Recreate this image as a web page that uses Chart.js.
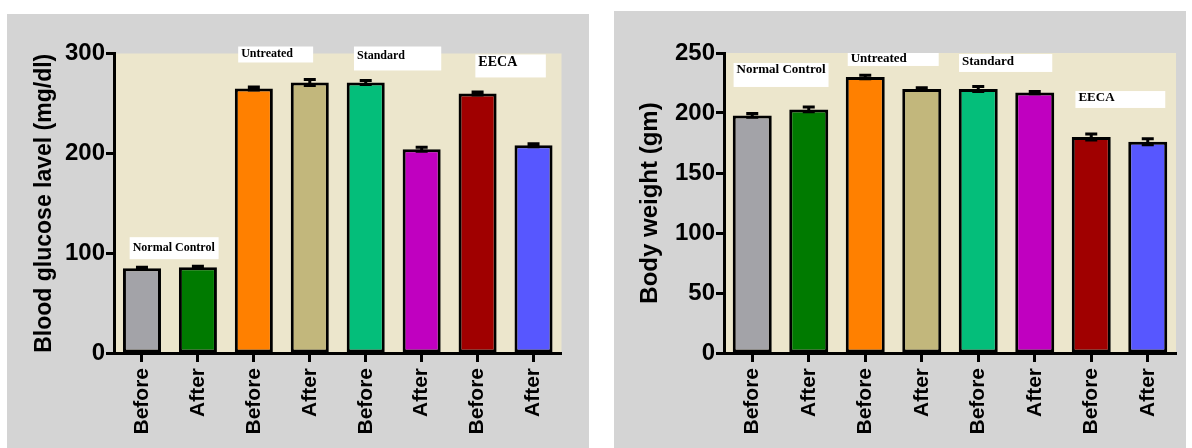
<!DOCTYPE html>
<html>
<head>
<meta charset="utf-8">
<script src="https://cdn.jsdelivr.net/npm/chart.js@4/dist/chart.umd.min.js"></script>
<style>
    html, body { margin: 0; padding: 0; background: #ffffff; }
    body { width: 1192px; height: 448px; position: relative; overflow: hidden; }
    .panel { position: absolute; background: #d4d4d4; }
    #leftPanel { left: 7px; top: 14px; width: 582px; height: 434px; }
    #rightPanel { left: 614px; top: 11px; width: 572px; height: 437px; }
    canvas { display: block; }
</style>
</head>
<body>
<div class="panel" id="leftPanel"><canvas id="glucoseChart" width="582" height="434"></canvas></div>
<div class="panel" id="rightPanel"><canvas id="weightChart" width="572" height="437"></canvas></div>

<script>
// Data
const categories = ['Before', 'After', 'Before', 'After', 'Before', 'After', 'Before', 'After'];
const barColors = ['#a3a3a8', '#007a00', '#ff8000', '#c2b77c', '#04be7a', '#c000c0', '#a00000', '#5757ff'];

const glucoseValues = [85, 86, 265, 271, 271, 204, 260, 208];
const glucoseErrors = [1, 1, 1.5, 3, 2, 2, 1.5, 1.5];
const glucoseTicks = [0, 100, 200, 300];

const weightValues = [198, 203, 230, 220, 220, 217, 180, 176];
const weightErrors = [1.5, 2, 1.5, 1, 2, 1, 2.5, 2.5];
const weightTicks = [0, 50, 100, 150, 200, 250];

const groupNames = ['Normal Control', 'Untreated', 'Standard', 'EECA'];

// label box layout (category index units on x, value units on y)
const glucoseNoteLayout = [
    { x0: -0.22, x1: 1.37, y0: 116, y1: 94, ty: 105, size: 12 },
    { x0: 1.72, x1: 3.06, y0: 307, y1: 291, ty: 299.5, size: 12 },
    { x0: 3.79, x1: 5.35, y0: 307, y1: 283, ty: 297.5, size: 12 },
    { x0: 5.96, x1: 7.22, y0: 299, y1: 276, ty: 291.5, size: 14 }
];
const weightNoteLayout = [
    { x0: -0.33, x1: 1.35, y0: 241.7, y1: 221.7, ty: 235.8, size: 13 },
    { x0: 1.69, x1: 3.3, y0: 250, y1: 239.2, ty: 245, size: 13 },
    { x0: 3.66, x1: 5.31, y0: 249.2, y1: 234.2, ty: 242.5, size: 13 },
    { x0: 5.72, x1: 7.31, y0: 218.3, y1: 204.2, ty: 212.5, size: 13 }
];

// Plot background
const plotBackground = {
    id: 'plotBackground',
    beforeDraw(chart) {
        const { ctx, chartArea } = chart;
        ctx.save();
        ctx.fillStyle = '#ece6cc';
        ctx.fillRect(chartArea.left, chartArea.top, chartArea.right - chartArea.left, chartArea.bottom - chartArea.top);
        ctx.restore();
    }
};

// Error bars from the errors array of each dataset
const errorBars = {
    id: 'errorBars',
    afterDatasetsDraw(chart) {
        const { ctx } = chart;
        const yScale = chart.scales.y;
        chart.data.datasets.forEach((ds, di) => {
            const meta = chart.getDatasetMeta(di);
            meta.data.forEach((bar, i) => {
                const v = ds.data[i];
                const e = ds.errors[i];
                const yTop = yScale.getPixelForValue(v + e);
                const yBot = yScale.getPixelForValue(v - e);
                ctx.save();
                ctx.strokeStyle = '#000';
                ctx.lineWidth = 3;
                ctx.beginPath();
                ctx.moveTo(bar.x, yTop);
                ctx.lineTo(bar.x, yBot);
                ctx.moveTo(bar.x - 6, yTop);
                ctx.lineTo(bar.x + 6, yTop);
                ctx.moveTo(bar.x - 6, yBot);
                ctx.lineTo(bar.x + 6, yBot);
                ctx.stroke();
                ctx.restore();
            });
        });
    }
};

// White label boxes over the groups
const groupLabels = {
    id: 'groupLabels',
    afterDatasetsDraw(chart, args, opts) {
        const { ctx } = chart;
        const xs = chart.scales.x, ys = chart.scales.y;
        const step = xs.getPixelForValue(1) - xs.getPixelForValue(0);
        const px = v => xs.getPixelForValue(0) + v * step;
        opts.layout.forEach((b, i) => {
            const left = px(b.x0), right = px(b.x1);
            const top = ys.getPixelForValue(b.y0), bottom = ys.getPixelForValue(b.y1);
            ctx.save();
            ctx.fillStyle = '#ffffff';
            ctx.fillRect(left, top, right - left, bottom - top);
            ctx.fillStyle = '#000000';
            ctx.font = 'bold ' + b.size + 'px "Liberation Serif", "Times New Roman", serif';
            ctx.textBaseline = 'middle';
            ctx.textAlign = 'left';
            ctx.fillText(opts.names[i], left + 3, ys.getPixelForValue(b.ty));
            ctx.restore();
        });
    }
};

function makeChart(id, values, errors, ticks, title, noteLayout, sizes) {
    const ctx = document.getElementById(id).getContext('2d');
    return new Chart(ctx, {
        type: 'bar',
        data: {
            labels: categories,
            datasets: [{
                data: values,
                errors: errors,
                backgroundColor: barColors,
                borderColor: '#000000',
                borderWidth: 3,
                borderSkipped: false,
                categoryPercentage: 1,
                barPercentage: sizes.barPct
            }]
        },
        options: {
            responsive: false,
            animation: false,
            events: [],
            layout: {
                padding: { left: 0, right: sizes.padRight, top: sizes.padTop, bottom: 0 }
            },
            plugins: {
                legend: { display: false },
                tooltip: { enabled: false },
                groupLabels: { names: groupNames, layout: noteLayout }
            },
            scales: {
                x: {
                    afterFit: s => { s.height = 95; },
                    grid: {
                        offset: false,
                        drawOnChartArea: false,
                        drawTicks: true,
                        tickLength: 9,
                        tickWidth: 3,
                        tickColor: '#000'
                    },
                    border: { display: true, width: 3, color: '#000' },
                    ticks: {
                        autoSkip: false,
                        minRotation: 90,
                        maxRotation: 90,
                        padding: 6,
                        color: '#000',
                        font: { family: '"Liberation Sans", Arial, sans-serif', size: 21, weight: 'bold' }
                    }
                },
                y: {
                    min: 0,
                    max: ticks[ticks.length - 1],
                    afterFit: s => { s.width = sizes.yWidth; },
                    afterBuildTicks: s => { s.ticks = ticks.map(v => ({ value: v })); },
                    grid: {
                        drawOnChartArea: false,
                        drawTicks: true,
                        tickLength: 8,
                        tickWidth: 3,
                        tickColor: '#000'
                    },
                    border: { display: true, width: 3, color: '#000' },
                    ticks: {
                        padding: 1,
                        color: '#000',
                        font: { family: '"Liberation Sans", Arial, sans-serif', size: 24, weight: 'bold' }
                    },
                    title: {
                        display: true,
                        text: title,
                        color: '#000',
                        padding: { top: sizes.titlePad, bottom: 0 },
                        font: { family: '"Liberation Sans", Arial, sans-serif', size: sizes.titleSize, weight: 'bold' }
                    }
                }
            }
        },
        plugins: [plotBackground, errorBars, groupLabels]
    });
}

makeChart('glucoseChart', glucoseValues, glucoseErrors, glucoseTicks, 'Blood glucose lavel (mg/dl)', glucoseNoteLayout,
    { barPct: 0.68, padRight: 27.5, padTop: 39.5, yWidth: 107, titlePad: 24, titleSize: 23 });
makeChart('weightChart', weightValues, weightErrors, weightTicks, 'Body weight (gm)', weightNoteLayout,
    { barPct: 0.69, padRight: 10, padTop: 42, yWidth: 110, titlePad: 22, titleSize: 24 });
</script>
</body>
</html>
